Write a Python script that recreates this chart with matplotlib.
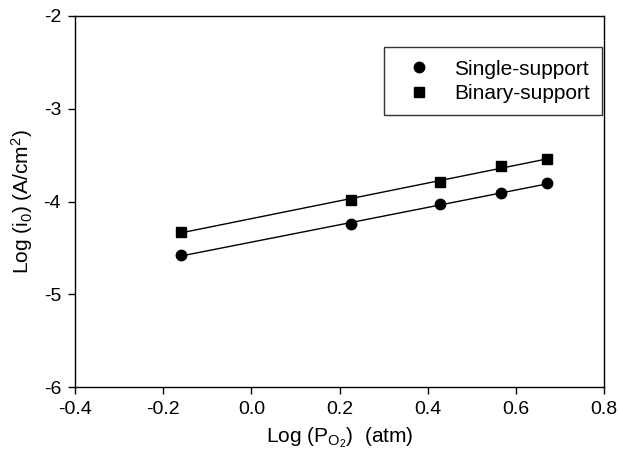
import numpy as np
import matplotlib.pyplot as plt

plt.rcParams['font.family'] = 'Liberation Sans'
plt.rcParams['mathtext.fontset'] = 'custom'
plt.rcParams['mathtext.rm'] = 'Liberation Sans'
plt.rcParams['mathtext.it'] = 'Liberation Sans'

# log oxygen partial pressure vs log exchange current density
log_po2 = [-0.160, 0.226, 0.428, 0.566, 0.671]
single_support = [-4.58, -4.245, -4.027, -3.912, -3.804]
binary_support = [-4.329, -3.984, -3.786, -3.617, -3.545]

fig = plt.figure(figsize=(6.19, 4.57), dpi=100)
ax = fig.add_axes([0.121, 0.153, 0.855, 0.812])

x = np.array(log_po2)
for y, marker, label in [(single_support, 'o', 'Single-support'),
                         (binary_support, 's', 'Binary-support')]:
    ax.plot(x, y, linestyle='none', marker=marker, color='black',
            markersize=7.5 if marker == 'o' else 7, label=label)
    # least squares line through each series
    k, b = np.polyfit(x, y, 1)
    ax.plot([x[0], x[-1]], [k * x[0] + b, k * x[-1] + b], color='black', lw=1)

ax.set_xlim(-0.4, 0.8)
ax.set_ylim(-6, -2)
ax.set_xticks(np.arange(-0.4, 0.81, 0.2))
ax.set_xticklabels(['-0.4', '-0.2', '0.0', '0.2', '0.4', '0.6', '0.8'])
ax.set_yticks([-6, -5, -4, -3, -2])
ax.set_yticklabels(['-6', '-5', '-4', '-3', '-2'])
ax.tick_params(direction='out', length=5, width=1, labelsize=14, pad=5)
for s in ax.spines.values():
    s.set_linewidth(1)

ax.set_xlabel(r'Log (P$_{O_2}$)  (atm)', fontsize=15, labelpad=5)
ax.set_ylabel(r'Log (i$_0$) (A/cm$^2$)', fontsize=15, labelpad=6)

leg = ax.legend(loc='upper right', bbox_to_anchor=(0.996, 0.916), fontsize=15,
                frameon=True, fancybox=False, edgecolor='black',
                handlelength=2.2, handletextpad=0.56, borderpad=0.6,
                labelspacing=0.25, borderaxespad=0)
leg.get_frame().set_linewidth(1)

fig.savefig('out.png', dpi=100)
